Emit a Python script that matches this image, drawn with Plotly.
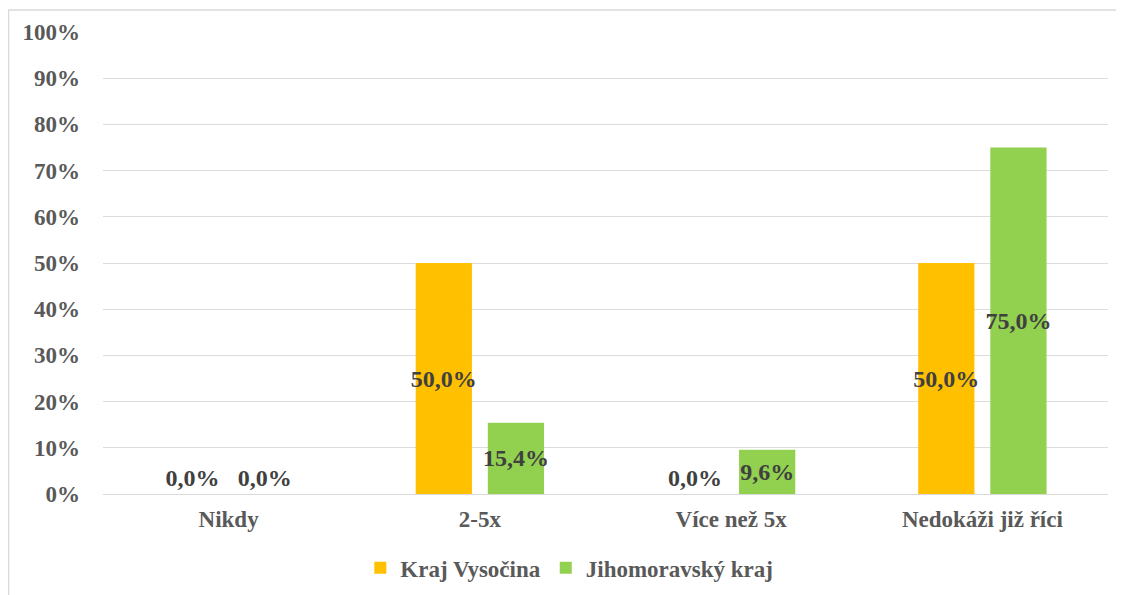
import plotly.graph_objects as go

categories = ["Nikdy", "2-5x", "Více než 5x", "Nedokáži již říci"]
vysocina = [0.0, 50.0, 0.0, 50.0]
jihomoravsky = [0.0, 15.4, 9.6, 75.0]
series_names = ["Kraj Vysočina", "Jihomoravský kraj"]
tick_vals = [0, 10, 20, 30, 40, 50, 60, 70, 80, 90, 100]
tick_text = [f"{v}%" for v in tick_vals]

FONT = "Liberation Serif"
LABEL_COLOR = "#404040"
AXIS_COLOR = "#595959"

def positions(vals):
    return ["inside" if v > 0 else "outside" for v in vals]

fig = go.Figure()
for name, vals, color in [(series_names[0], vysocina, "#FFC000"),
                          (series_names[1], jihomoravsky, "#92D050")]:
    fig.add_trace(go.Bar(
        x=categories, y=vals, name=name,
        marker=dict(color=color, line=dict(width=0)),
        text=[f"{v:.1f}%".replace(".", ",") for v in vals],
        textposition=positions(vals),
        textangle=0,
        insidetextanchor="middle",
        constraintext="none",
        cliponaxis=False,
        textfont=dict(family=FONT, size=24, color=LABEL_COLOR, weight="bold"),
    ))

fig.update_layout(
    width=1116, height=587,
    paper_bgcolor="white", plot_bgcolor="white",
    margin=dict(l=95, r=16, t=24, b=101, autoexpand=False),
    barmode="group", bargap=0.426, bargroupgap=0.22,
    font=dict(family=FONT, size=23, color=AXIS_COLOR, weight="bold"),
    xaxis=dict(showgrid=False, showline=True, linecolor="#d9d9d9", linewidth=1,
               ticks="", ticklabelstandoff=4,
               tickfont=dict(family=FONT, size=23, color=AXIS_COLOR, weight="bold")),
    yaxis=dict(range=[0, 100], tickvals=tick_vals, ticktext=tick_text,
               showgrid=True, gridcolor="#dcdcdc", gridwidth=1, zeroline=False,
               showline=False, ticks="", ticklabelstandoff=22,
               tickfont=dict(family=FONT, size=23, color=AXIS_COLOR, weight="bold")),
    legend=dict(orientation="h", x=0.464, xanchor="center", y=-0.16, yanchor="middle",
                font=dict(family=FONT, size=23, color=AXIS_COLOR, weight="bold"),
                itemwidth=30, traceorder="normal"),
    showlegend=True,
    shapes=[dict(type="rect", xref="paper", yref="paper",
                 x0=-0.094, x1=1.1, y0=-0.4, y1=1.0476,
                 line=dict(color="#d9d9d9", width=1.5), fillcolor="rgba(0,0,0,0)",
                 layer="below")],
)

fig.write_html("out.html")
